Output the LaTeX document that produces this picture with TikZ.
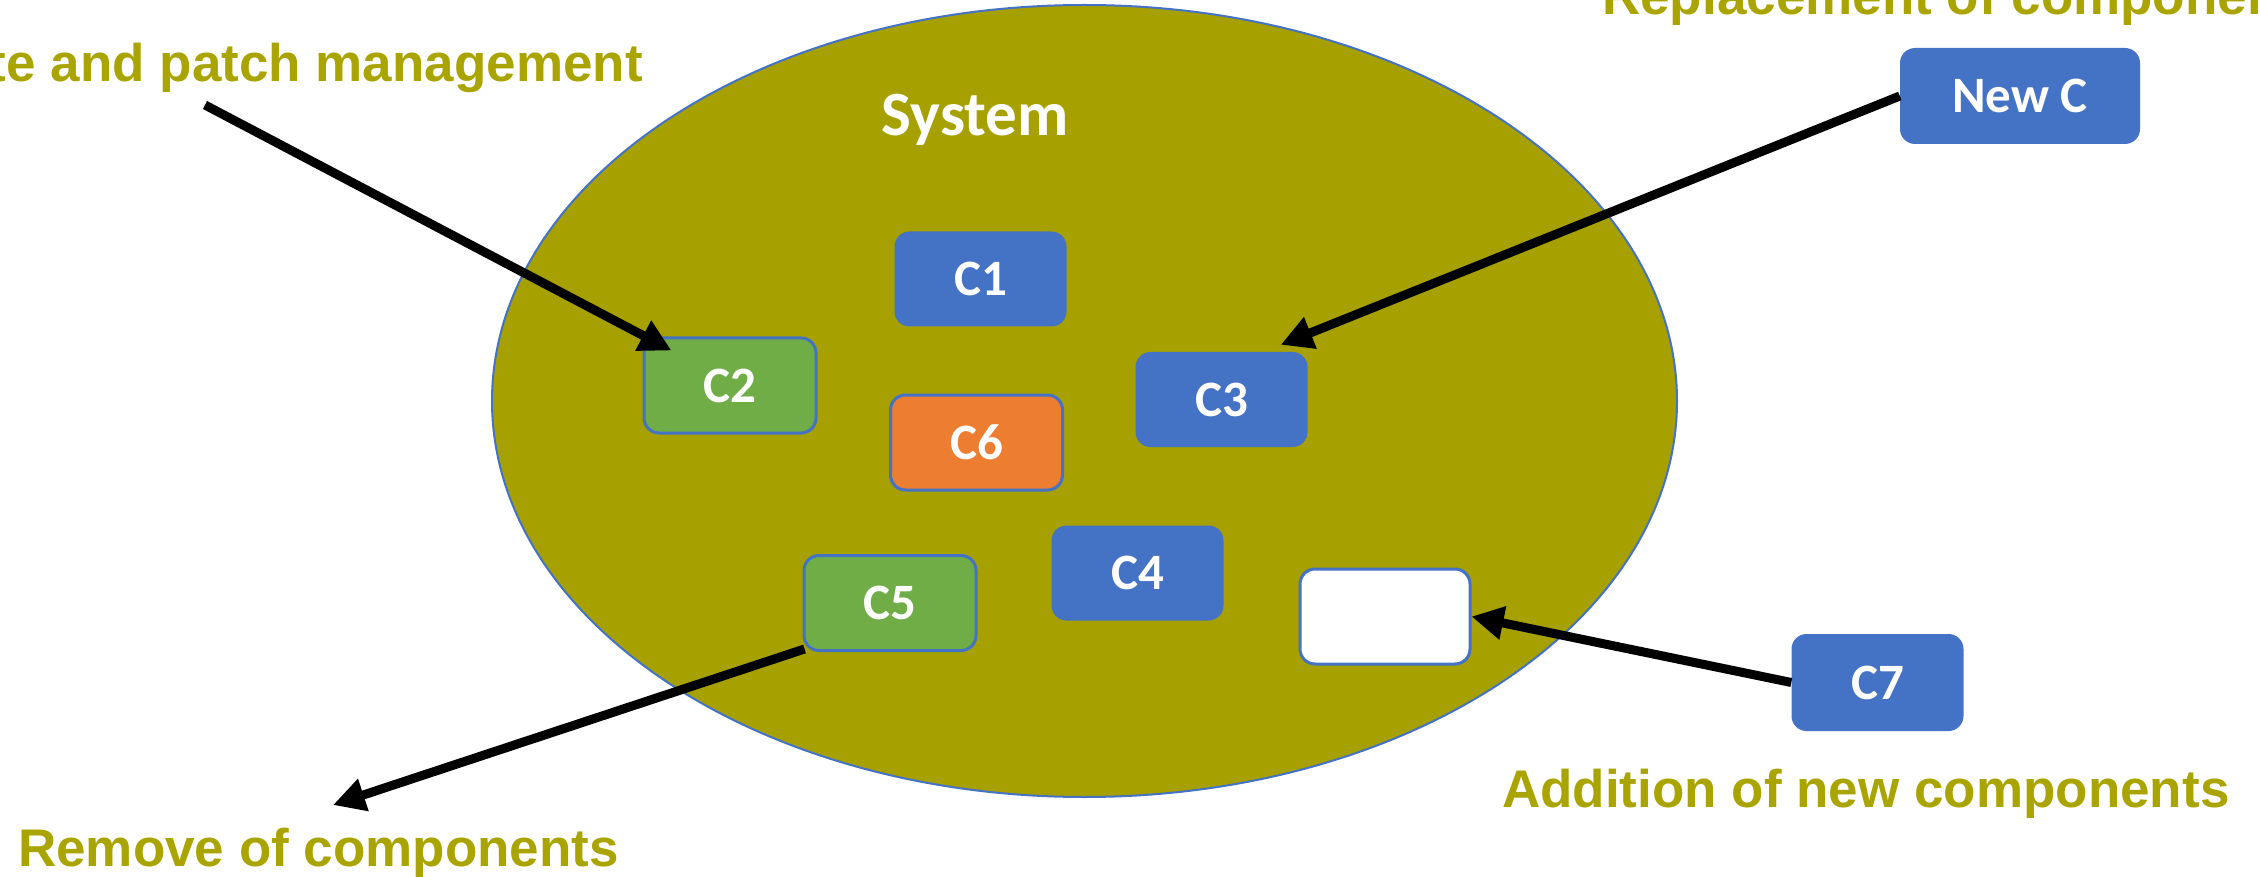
\documentclass[tikz,border=0pt]{standalone}
\usepackage{fontspec}
\setmainfont{Liberation Sans}
\newfontfamily\boxfont{Carlito}
\usetikzlibrary{arrows.meta,shapes.geometric}

\definecolor{olivefill}{HTML}{A6A100}
\definecolor{olivetext}{HTML}{AAA400}
\definecolor{compblue}{HTML}{4472C4}
\definecolor{compgreen}{HTML}{70AD47}
\definecolor{comporange}{HTML}{ED7D31}

\tikzset{
  comp/.style={rounded corners=15pt, minimum width=172pt, minimum height=95pt,
    inner sep=0pt, text=white, font=\boxfont\bfseries\fontsize{51}{56}\selectfont},
  bluecomp/.style={comp, fill=compblue},
  greencomp/.style={comp, fill=compgreen, draw=compblue, line width=3pt},
  orangecomp/.style={comp, fill=comporange, draw=compblue, line width=3pt},
  emptycomp/.style={comp, fill=white, draw=compblue, line width=3pt},
  caption/.style={inner sep=0pt, text=olivetext,
    font=\bfseries\fontsize{53}{60}\selectfont},
  flow/.style={line width=9pt, -{Triangle[length=32pt, width=32pt]}}
}

\begin{document}
\begin{tikzpicture}[x=1pt, y=-1pt]
  \useasboundingbox (0,0) rectangle (2260,877);

  % the system boundary
  \node[ellipse, draw=compblue, line width=2pt, fill=olivefill,
        minimum width=1185pt, minimum height=792pt, inner sep=0pt] (sys) at (1084.5,401) {};
  \node[text=white, inner sep=0pt, font=\boxfont\bfseries\fontsize{63}{68}\selectfont]
        (systitle) at (975,120) {System};

  % components inside the system
  \node[bluecomp]   (c1) at (980.5,279)   {C1};
  \node[greencomp]  (c2) at (730,385.5)   {C2};
  \node[bluecomp]   (c3) at (1221.5,399.5) {C3};
  \node[orangecomp] (c6) at (976.5,442.5) {C6};
  \node[bluecomp]   (c4) at (1137.5,573)  {C4};
  \node[greencomp]  (c5) at (890,603)     {C5};
  \node[emptycomp, minimum width=170pt] (slot) at (1385,616.5) {};

  % components outside the system
  \node[bluecomp, minimum height=97pt] (c7) at (1877.5,682.5) {C7};
  \node[bluecomp, minimum width=240pt, minimum height=96pt] (newc) at (2020,96) {New C};

  % captions
  \node[caption, anchor=base east] (capupd) at (643,82)  {Update and patch management};
  \node[caption, anchor=base west] (caprep) at (1602,15) {Replacement of components};
  \node[caption, anchor=base west] (caprem) at (18,866)  {Remove of components};
  \node[caption, anchor=base west] (capadd) at (1502,807) {Addition of new components};

  % connector ends
  \coordinate (updstart) at (205,105);
  \coordinate (remend) at (333,805);

  % change operations
  \draw[flow] (updstart) -- ([shift={(29,14)}]c2.north west);
  \draw[flow] (newc.west) -- ([shift={(-27,-7)}]c3.north east);
  \draw[flow] ([shift={(2,-3)}]c5.south west) -- (remend);
  \draw[flow] (c7.west) -- (slot.east);
\end{tikzpicture}
\end{document}
